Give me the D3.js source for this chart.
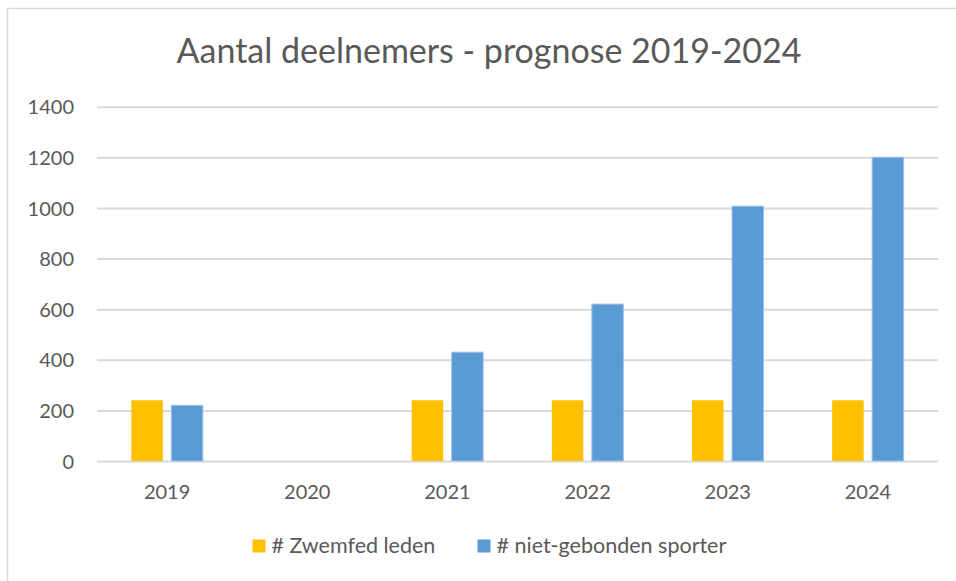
<!DOCTYPE html>
<html>
<head>
<meta charset="utf-8">
<script src="https://cdn.jsdelivr.net/npm/d3@7"></script>
<style>
body{margin:0;background:#fff;}
text{font-family:Lato,"Open Sans",sans-serif;fill:#595959;}
</style>
</head>
<body>
<script>
const svg_width = 956, svg_height = 581;
// data
var years = ["2019","2020","2021","2022","2023","2024"];
var seriesNames = ["# Zwemfed leden","# niet-gebonden sporter"];
var zwemfed = [240, null, 240, 240, 240, 240];
var nietGebonden = [220, null, 430, 620, 1007, 1200];
var yTicks = [0,200,400,600,800,1000,1200,1400];
var colors = ["#FFC000","#5B9BD5"];

var svg = d3.select("body").append("svg")
.attr("width",svg_width)
.attr("height",svg_height);

// chart border (runs off the right / bottom edge)
svg.append("rect")
.attr("x",7.5).attr("y",8.5)
.attr("width",1000).attr("height",700)
.attr("fill","none")
.attr("stroke","#d9d9d9")
.attr("stroke-width",1.5);

svg.append("text")
.attr("x",489).attr("y",63)
.attr("text-anchor","middle")
.style("font-size","34px")
.text("Aantal deelnemers - prognose 2019-2024");

var x0 = d3.scaleBand().domain(years).range([97,938]).paddingInner(0.49).paddingOuter(0.245);
var x1 = d3.scaleBand().domain(seriesNames).range([0,x0.bandwidth()]).paddingInner(0.2125);
var y = d3.scaleLinear().domain([0,1400]).range([461,106.7]);

// gridlines
var grid = svg.append("g").attr("transform","translate(97,0)")
.call(d3.axisLeft(y).tickValues(yTicks).tickSize(-841).tickFormat(""));
grid.select(".domain").remove();
grid.selectAll("line").attr("stroke","#d9d9d9").attr("stroke-width",2);

// y labels
var yAxis = svg.append("g").attr("transform","translate(74,0)")
.call(d3.axisLeft(y).tickValues(yTicks).tickSize(0).tickPadding(0).tickFormat(d3.format("d")));
yAxis.select(".domain").remove();
yAxis.selectAll("text").style("font-size","20px").attr("fill","#595959").attr("dy","0.36em");

// x labels
var xAxis = svg.append("g").attr("transform","translate(0,461)")
.call(d3.axisBottom(x0).tickSize(0).tickPadding(0));
xAxis.select(".domain").remove();
xAxis.selectAll("text").style("font-size","20px").attr("fill","#595959").attr("dy","38px");

var rows = years.map(function(d,i){return {year:d, vals:[zwemfed[i], nietGebonden[i]]};});
var groups = svg.selectAll("g.cat").data(rows).enter().append("g")
.attr("class","cat")
.attr("transform",function(d){return "translate("+x0(d.year)+",0)";});
groups.selectAll("rect")
.data(function(d){return d.vals.map(function(v,j){return {v:v,j:j};}).filter(function(e){return e.v!=null;});})
.enter().append("rect")
.attr("x",function(d){return x1(seriesNames[d.j]);})
.attr("y",function(d){return y(d.v);})
.attr("width",x1.bandwidth())
.attr("height",function(d){return y(0)-y(d.v);})
.attr("fill",function(d){return colors[d.j];})
.attr("stroke",function(d){return d.j==1 ? "#9cc2e8" : "none";})
.attr("stroke-width",1);

// legend
var legendX = [252.5, 477.5];
var legend = svg.selectAll("g.leg").data(seriesNames).enter().append("g")
.attr("class","leg")
.attr("transform",function(d,i){return "translate("+legendX[i]+",539.5)";});
legend.append("rect").attr("width",13).attr("height",13)
.attr("fill",function(d,i){return colors[i];});
legend.append("text").attr("x",19).attr("y",13)
.style("font-size","21.5px")
.text(function(d){return d;});
</script>
</body>
</html>
